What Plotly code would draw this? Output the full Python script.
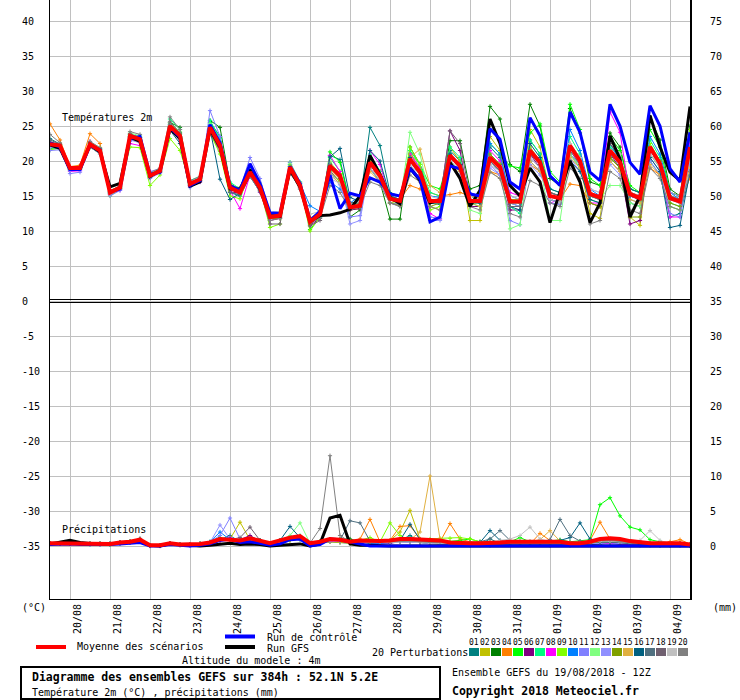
import plotly.graph_objects as go

# ---------------- data ----------------
HOURS = list(range(0, 385, 6))  # forecast hours from 19/08/2018 12Z
DATE_TICK_HOURS = [12, 36, 60, 84, 108, 132, 156, 180, 204, 228, 252, 276, 300, 324, 348, 372]
DATE_LABELS = ["20/08", "21/08", "22/08", "23/08", "24/08", "25/08", "26/08", "27/08",
               "28/08", "29/08", "30/08", "31/08", "01/09", "02/09", "03/09", "04/09"]
LEFT_TICKS = [40, 35, 30, 25, 20, 15, 10, 5, 0, -5, -10, -15, -20, -25, -30, -35]
RIGHT_TICKS = [75, 70, 65, 60, 55, 50, 45, 40, 35, 30, 25, 20, 15, 10, 5, 0]

T_MEAN = [22.4,22.2,19.0,19.0, 22.4,21.5,15.5,16.2, 23.6,23.1,17.9,18.6, 25.0,23.6,16.7,17.4,
          24.8,22.2,16.2,15.5, 18.4,16.2,12.0,12.2, 19.1,16.5,11.3,12.4, 19.3,17.9,13.4,13.6,
          19.8,17.9,14.6,14.3, 20.3,18.4,14.3,14.3, 20.8,19.3,14.3,14.3, 20.5,19.1,14.2,14.2,
          21.5,19.8,15.0,14.7, 22.2,20.0,15.3,14.8, 21.5,19.8,15.3,14.7, 22.0,19.6,14.7,14.2, 22.0]
T_CTRL = [22.6,22.0,18.8,18.8, 22.2,21.6,15.6,16.0, 23.2,23.5,18.1,18.4, 24.8,23.4,16.5,17.2,
          25.2,22.6,16.5,15.8, 19.6,16.8,12.6,12.5, 19.2,16.8,11.5,12.8, 18.0,13.2,15.4,15.0,
          17.6,17.0,15.3,15.0, 18.9,17.4,11.3,12.0, 19.3,18.9,15.3,15.0, 24.6,23.1,17.0,16.0,
          26.2,23.6,17.9,16.5, 27.0,24.1,18.4,17.2, 28.1,25.0,19.8,18.1, 27.9,25.0,18.9,17.0, 24.1]
T_GFS = [22.3,21.8,18.8,18.9, 22.3,21.3,16.3,16.8, 23.4,22.8,17.8,18.7, 24.6,23.2,16.4,17.0,
         24.5,22.0,16.0,16.0, 18.8,16.0,12.2,12.1, 18.8,16.3,11.4,12.2, 12.3,12.6,13.1,15.0,
         20.8,18.1,14.8,13.9, 19.0,17.2,14.0,14.5, 19.8,17.5,13.5,15.8, 26.0,22.5,16.5,15.0,
         19.0,17.0,11.2,15.5, 20.0,17.0,11.2,14.0, 23.6,20.3,12.0,15.0, 26.5,22.0,18.4,17.2, 27.8]

T01 = [23.2,22.4,19.0,19.2, 22.6,21.8,15.6,16.3, 23.8,23.4,18.0,18.8, 25.2,23.8,16.8,17.6, 25.6,23.5,15.5,15.0, 17.8,15.8,11.8,12.0, 19.5,16.8,11.0,12.0, 20.8,20.2,14.0,14.2, 24.8,22.2,15.5,15.0, 21.0,19.0,14.0,13.8, 21.5,20.0,15.0,14.5, 22.0,20.5,14.0,13.5, 23.0,21.0,14.5,14.0, 21.0,19.0,14.0,13.5, 20.5,19.0,14.0,13.5, 20.0,18.0,12.0,12.5, 18.0]
T02 = [22.0,21.8,18.6,18.8, 21.9,21.3,15.2,16.0, 23.0,22.8,17.6,18.4, 24.6,23.2,16.5,17.2, 24.0,21.5,16.5,16.2, 18.0,15.8,12.5,12.6, 18.6,16.3,11.8,12.8, 19.8,18.2,13.0,13.2, 20.5,18.5,14.0,13.8, 21.0,19.5,13.5,13.0, 22.0,20.0,11.5,11.5, 23.5,21.5,14.0,14.5, 24.5,22.0,15.5,15.0, 21.0,19.5,12.5,11.8, 22.5,20.5,12.0,10.8, 21.5,19.5,15.5,15.0, 21.5]
T03 = [22.0,21.9,18.9,19.0, 22.4,21.6,15.4,16.1, 23.4,23.0,17.8,18.5, 25.5,24.8,17.0,17.3, 25.8,24.8,16.8,15.8, 18.6,16.4,12.2,12.4, 19.2,16.6,11.6,12.6, 19.6,17.8,12.0,13.0, 19.0,17.0,11.7,11.7, 22.0,19.5,14.5,14.0, 22.9,22.9,16.0,16.5, 27.8,26.0,19.5,18.5, 28.1,25.0,17.5,16.5, 27.5,24.0,17.0,16.5, 24.0,22.0,16.0,15.5, 26.3,23.0,16.0,15.0, 25.0]
T04 = [25.3,23.0,19.2,19.4, 23.9,22.5,15.8,16.4, 23.2,22.6,17.8,18.4, 24.8,23.4,16.6,17.3, 24.2,21.8,16.6,16.0, 18.0,16.0,12.2,12.5, 18.8,16.3,11.6,12.5, 18.8,17.4,13.5,13.7, 19.0,17.5,14.0,14.5, 16.5,16.0,15.5,15.0, 15.2,15.5,15.0,14.8, 18.5,18.0,14.5,14.0, 19.5,18.5,15.0,14.5, 16.7,16.5,14.0,13.5, 20.0,18.5,15.0,14.5, 19.0,18.0,15.5,15.0, 17.5]
T05 = [21.8,21.9,18.7,18.9, 22.1,21.4,15.4,16.1, 23.7,23.3,17.9,18.7, 25.3,24.0,16.9,17.5, 25.5,22.8,16.8,15.3, 18.3,16.0,11.8,12.0, 19.8,17.0,10.2,12.0, 21.3,19.8,13.8,14.0, 20.5,18.5,15.0,14.5, 21.5,19.5,16.5,16.0, 21.0,19.5,15.0,14.5, 22.5,21.0,19.3,19.0, 24.0,25.3,18.5,17.0, 28.1,24.5,17.5,16.5, 23.5,21.5,16.5,15.5, 24.5,22.0,15.5,15.0, 23.5]
T06 = [22.1,21.9,18.8,18.9, 22.2,21.2,15.3,16.0, 23.3,22.9,18.0,18.6, 24.8,23.3,16.4,17.1, 24.0,21.4,15.6,15.4, 18.2,16.0,11.5,11.8, 19.0,16.4,10.8,11.8, 18.6,17.0,13.0,13.2, 19.5,17.5,14.5,14.0, 20.0,18.0,14.0,14.5, 24.3,21.5,13.5,13.5, 20.5,19.0,13.0,13.0, 21.0,19.0,14.5,14.0, 22.0,20.0,15.5,15.0, 21.0,19.0,11.0,11.5, 21.5,19.5,15.0,14.5, 21.0]
T07 = [22.2,22.1,19.1,19.1, 22.5,21.7,15.6,16.3, 23.8,23.4,18.0,18.7, 26.0,24.5,17.2,17.8, 25.8,23.2,17.0,16.0, 18.8,16.5,12.0,12.2, 19.5,16.8,11.2,12.3, 20.5,18.5,13.8,14.0, 21.0,18.5,15.0,14.5, 21.5,19.5,15.5,15.0, 22.0,20.5,14.0,13.5, 21.0,19.5,13.5,12.5, 23.0,21.0,16.0,15.5, 23.5,21.0,14.5,14.0, 22.0,20.5,16.0,15.5, 23.0,20.5,14.0,13.5, 23.5]
T08 = [22.0,21.8,18.5,18.6, 22.8,21.6,15.2,15.8, 22.5,22.2,17.6,18.4, 24.6,23.4,16.5,17.0, 24.4,21.6,15.8,13.2, 18.0,15.5,11.8,12.0, 18.8,16.2,11.6,12.6, 20.8,18.5,13.5,13.8, 21.5,19.5,14.5,14.0, 21.0,19.0,12.5,11.7, 20.5,19.0,14.0,14.5, 21.5,20.0,15.5,15.0, 22.0,20.0,14.0,14.5, 21.5,19.5,14.0,14.0, 27.0,24.1,15.0,14.5, 21.0,19.0,12.0,12.0, 22.5]
T09 = [21.6,21.8,18.8,18.9, 22.0,21.0,15.0,16.0, 22.0,21.9,16.5,18.0, 23.2,21.5,16.8,17.4, 24.0,21.0,15.0,14.6, 18.5,16.0,10.5,11.0, 19.2,16.4,10.0,12.0, 18.5,17.0,13.2,13.4, 19.0,17.0,14.0,14.0, 22.0,19.5,13.0,13.5, 21.0,19.0,14.0,14.0, 20.5,19.5,14.5,14.5, 22.0,20.0,15.5,15.0, 21.0,19.5,15.0,14.5, 20.5,19.0,15.5,15.0, 22.5,20.0,13.5,13.0, 24.5]
T10 = [22.0,21.7,18.9,19.0, 22.5,21.5,15.5,16.2, 23.5,23.0,18.0,18.6, 25.2,23.5,16.6,17.2, 25.0,22.5,16.4,15.8, 18.6,16.6,12.4,12.6, 19.2,16.8,13.6,12.8, 17.0,16.0,14.0,15.0, 19.5,18.0,15.0,14.5, 20.0,18.5,15.0,14.8, 21.0,19.5,14.5,14.5, 22.5,21.0,15.0,14.5, 20.0,18.5,14.5,14.0, 24.5,21.5,16.0,15.0, 22.5,20.0,15.0,14.5, 23.5,21.0,15.5,14.5, 22.0]
T11 = [21.5,21.6,18.2,18.4, 22.0,21.0,15.0,15.8, 22.8,23.3,18.5,18.9, 24.5,23.0,16.2,17.0, 27.2,23.5,16.5,16.0, 20.5,17.5,12.6,12.8, 19.8,17.0,11.4,12.0, 18.4,16.6,12.0,12.2, 19.0,17.0,14.0,13.8, 19.5,17.5,12.0,11.8, 20.0,18.5,14.5,14.0, 19.5,18.0,11.5,10.9, 20.5,19.0,14.0,13.8, 21.0,19.5,15.0,14.5, 20.0,18.5,14.5,14.0, 20.5,18.5,12.5,12.0, 20.0]
T12 = [22.5,22.3,19.2,19.1, 22.7,21.9,15.7,16.4, 24.0,23.6,18.2,18.9, 25.5,24.2,17.0,17.6, 25.3,22.4,16.3,15.4, 18.9,16.8,12.2,12.4, 19.6,17.0,11.2,12.5, 19.8,18.0,13.5,13.8, 20.0,18.0,14.5,14.0, 24.1,21.0,14.5,14.0, 20.0,18.5,13.0,12.5, 20.5,19.0,10.3,10.9, 21.5,19.5,11.5,11.5, 21.0,19.0,15.0,14.5, 16.5,16.5,14.0,13.5, 21.0,19.0,13.5,13.0, 20.5]
T13 = [21.9,22.0,18.6,18.7, 22.3,21.4,15.3,15.9, 23.0,22.6,17.5,18.3, 24.8,23.6,17.0,17.6, 24.5,22.0,16.0,15.6, 18.2,16.1,11.8,12.0, 19.0,16.6,11.3,12.3, 19.0,17.5,11.0,11.5, 19.5,17.5,14.0,13.5, 20.0,18.0,11.5,11.5, 19.5,18.0,15.5,15.0, 19.0,18.0,14.0,13.5, 19.5,18.0,15.5,15.0, 20.5,18.5,16.0,15.5, 19.5,18.0,15.5,15.0, 20.0,18.0,15.5,15.0, 19.5]
T14 = [22.3,22.0,19.0,19.1, 22.4,21.5,15.6,16.3, 23.6,23.1,17.9,18.6, 24.9,23.5,16.8,17.5, 24.6,22.0,16.0,15.5, 18.4,16.3,11.8,11.8, 19.3,16.6,11.0,12.4, 19.0,17.5,13.2,13.4, 20.0,18.0,14.0,13.6, 20.5,18.5,13.5,14.0, 20.5,19.5,14.5,14.0, 21.0,19.5,14.5,14.0, 21.5,20.0,15.0,14.5, 22.5,20.5,14.0,13.5, 20.5,19.0,12.0,12.0, 22.0,20.0,14.0,13.5, 21.0]
T15 = [22.4,22.0,19.0,19.0, 22.5,21.6,15.6,16.2, 23.5,23.0,17.9,18.5, 24.8,23.4,16.6,17.3, 24.8,22.0,16.2,15.6, 18.5,16.4,12.2,12.4, 19.0,16.5,11.3,12.4, 18.0,16.8,13.5,14.0, 18.5,17.0,15.0,14.5, 20.5,21.7,16.5,15.5, 19.5,18.5,14.0,13.5, 18.5,17.5,14.0,14.0, 20.0,18.5,15.0,14.5, 20.5,19.0,15.5,14.5, 20.0,18.5,14.5,14.0, 19.5,18.0,15.0,14.5, 19.0]
T16 = [22.7,22.4,19.1,19.2, 22.6,21.7,15.7,16.4, 23.4,22.9,17.7,18.4, 24.4,22.5,16.6,17.2, 24.6,17.4,14.5,15.4, 17.8,15.6,12.0,12.2, 18.2,16.4,11.6,12.8, 20.6,21.8,14.8,14.2, 21.5,20.0,15.0,14.5, 20.5,18.5,14.5,14.5, 21.0,19.5,14.0,14.0, 20.0,18.5,13.5,13.0, 22.5,20.5,16.0,15.5, 20.0,18.5,14.5,14.0, 21.5,19.5,16.0,15.5, 20.5,18.5,10.5,10.8, 18.5]
T17 = [22.5,22.3,19.0,19.0, 22.3,21.4,15.4,16.1, 23.5,23.1,17.8,18.5, 24.7,23.2,16.6,17.3, 24.6,22.0,15.5,15.2, 18.1,15.9,12.0,12.2, 18.8,16.3,11.2,12.4, 19.2,17.6,13.2,13.4, 19.5,17.8,14.5,14.2, 20.0,18.0,14.0,14.0, 20.5,19.0,14.5,14.5, 20.0,18.5,14.0,14.0, 21.0,19.5,15.5,15.0, 21.5,19.5,15.0,14.5, 21.0,19.5,15.0,14.5, 21.5,19.5,14.5,14.0, 21.5]
T18 = [23.0,22.4,19.1,19.1, 22.5,21.7,15.5,16.2, 23.9,23.3,18.0,18.7, 25.6,24.0,17.0,17.5, 24.0,21.8,16.0,15.5, 18.0,15.8,11.0,11.0, 18.5,16.0,10.7,11.5, 19.5,18.0,14.0,14.0, 19.5,17.5,14.5,14.0, 20.0,18.0,14.5,14.5, 24.3,22.5,15.0,14.5, 20.0,18.5,13.5,13.5, 21.5,19.5,15.5,15.0, 22.0,20.0,15.0,14.5, 22.5,20.5,15.5,15.0, 21.5,19.5,15.0,14.5, 21.0]
T19 = [22.2,22.0,18.9,19.0, 22.3,21.4,15.4,16.1, 23.4,22.9,17.8,18.6, 24.6,23.2,16.5,17.2, 24.5,21.8,16.0,15.6, 18.2,16.0,12.6,12.8, 18.6,16.3,12.4,12.8, 17.5,16.8,13.8,14.2, 19.0,17.5,14.5,14.0, 19.5,18.0,15.0,14.5, 20.0,19.0,15.0,14.5, 19.5,18.5,15.0,14.5, 20.5,19.0,14.5,14.0, 22.5,20.5,16.0,15.5, 23.0,21.0,15.5,15.0, 21.0,19.5,14.5,14.0, 20.5]
T20 = [23.8,22.6,19.0,19.2, 22.8,21.9,15.7,16.4, 24.2,23.8,18.3,19.0, 26.3,24.5,17.2,17.8, 24.8,22.4,16.4,15.8, 17.8,15.6,11.5,11.8, 18.4,16.0,11.5,11.8, 16.5,15.5,13.0,13.5, 17.0,16.5,14.0,13.5, 18.0,17.0,13.5,13.0, 20.5,19.0,13.5,13.0, 18.4,17.5,12.5,12.0, 17.2,16.5,14.0,13.5, 19.0,17.5,11.0,11.5, 18.5,17.5,13.0,12.5, 19.0,17.5,13.5,13.0, 18.5]

P_MEAN = [0.4,0.4,0.4,0.4, 0.3,0.3,0.3,0.5, 0.6,0.9,0.1,0.1, 0.4,0.2,0.2,0.3, 0.5,1.0,0.9,0.8, 1.1,0.8,0.4,0.8,
          1.2,1.4,0.4,0.6, 1.0,0.9,0.6,0.8, 0.7,0.7,0.8,1.0, 1.0,0.9,0.9,0.8, 0.5,0.4,0.4,0.4, 0.4,0.5,0.6,0.6,
          0.6,0.6,0.6,0.6, 0.4,0.4,0.6,1.0, 1.1,1.0,0.7,0.5, 0.4,0.4,0.4,0.4, 0.2]
P_CTRL = [0.2,0.3,0.3,0.2, 0.2,0.1,0.2,0.3, 0.4,0.5,0.0,0.0, 0.2,0.1,0.0,0.1, 0.3,0.8,1.0,0.5, 0.6,0.4,0.1,0.3,
          0.9,1.0,0.0,0.2, 1.0,0.9,0.6,0.3, 0.0,0.0,0.0,0.0, 0.0,0.0,0.0,0.0, 0.0,0.0,0.0,0.0, 0.0,0.0,0.0,0.0,
          0.0,0.0,0.0,0.0, 0.0,0.0,0.0,0.0, 0.0,0.0,0.0,0.0, 0.0,0.0,0.0,0.0, 0.0]
P_GFS = [0.3,0.6,0.8,0.5, 0.3,0.2,0.3,0.4, 0.5,0.7,0.1,0.0, 0.3,0.2,0.1,0.0, 0.1,0.3,0.4,0.2, 0.3,0.2,0.0,0.1,
         0.2,0.3,0.0,0.3, 4.0,4.4,0.3,0.1, 0.1,0.0,0.0,0.0, 0.0,0.0,0.0,0.0, 0.0,0.0,0.0,0.0, 0.0,0.0,0.0,0.0,
         0.0,0.0,0.0,0.0, 0.0,0.0,0.0,0.0, 0.0,0.0,0.0,0.0, 0.0,0.0,0.0,0.0, 0.0]

P01 = [0.3,0.4,0.4,0.3, 0.2,0.2,0.2,0.4, 0.5,0.8,0.1,0.0, 0.3,0.1,0.1,0.2, 0.4,0.9,1.5,0.6, 0.8,0.5,0.2,0.6, 1.2,0.9,0.2,0.4, 0.6,0.5,0.4,0.6, 0.5,0.4,0.5,0.8, 1.5,0.6,0.4,0.3, 0.2,0.2,0.1,0.2, 1.0,0.4,0.2,0.3, 0.3,0.2,0.3,0.2, 0.2,0.3,0.4,0.5, 0.6,0.5,0.3,0.2, 0.2,0.1,0.2,0.3, 0.1]
P02 = [0.4,0.4,0.5,0.4, 0.3,0.3,0.3,0.5, 0.6,0.9,0.1,0.1, 0.4,0.2,0.2,0.3, 0.5,0.8,1.0,3.4, 0.9,0.6,0.3,0.5, 0.8,1.0,0.3,0.4, 0.6,0.5,0.4,0.5, 0.5,0.6,0.8,2.0, 5.1,1.0,0.3,0.2, 0.3,0.2,0.2,0.1, 0.2,0.3,0.2,0.3, 0.4,0.3,0.2,0.3, 0.2,0.2,0.3,0.5, 0.6,0.4,0.3,0.2, 0.2,0.2,0.1,0.2, 0.1]
P03 = [0.3,0.4,0.4,0.3, 0.3,0.3,0.2,0.4, 0.5,0.8,0.0,0.1, 0.3,0.2,0.2,0.2, 0.4,1.0,0.8,0.6, 0.9,0.6,0.3,0.7, 1.0,1.2,0.3,0.5, 0.8,1.0,1.0,0.6, 0.4,0.4,0.5,0.6, 0.6,0.5,0.4,0.3, 0.2,0.2,0.3,0.2, 0.1,0.2,0.3,0.2, 0.2,0.2,0.1,0.2, 0.1,0.2,0.2,0.3, 0.4,0.3,0.2,0.1, 0.1,0.1,0.1,0.1, 0.0]
P04 = [0.4,0.4,0.4,0.4, 0.3,0.3,0.3,0.4, 0.5,0.9,0.1,0.1, 0.4,0.2,0.2,0.2, 0.4,0.9,0.8,0.7, 1.0,0.7,0.3,0.6, 1.0,1.3,0.3,0.5, 0.8,0.8,0.6,1.0, 3.8,0.6,0.8,2.8, 2.9,1.0,0.5,0.6, 3.2,1.0,0.6,0.5, 0.6,0.7,0.5,0.4, 0.3,1.8,0.8,0.3, 0.3,0.4,0.8,3.4, 1.0,0.6,0.4,0.3, 0.3,0.3,0.6,0.9, 0.3]
P05 = [0.4,0.4,0.4,0.3, 0.3,0.2,0.3,0.4, 0.5,0.9,0.1,0.1, 0.3,0.2,0.2,0.3, 0.6,1.2,0.9,0.8, 1.0,0.8,0.4,0.7, 1.0,1.2,0.3,0.5, 0.8,0.9,0.6,0.7, 0.5,0.4,0.6,0.6, 0.5,0.5,0.4,0.5, 0.6,0.8,1.0,0.6, 0.4,0.4,0.6,1.2, 0.6,0.5,0.7,0.9, 0.6,0.7,0.9,5.9, 6.9,4.3,2.7,2.3, 0.9,0.6,0.4,0.3, 0.2]
P06 = [0.3,0.3,0.4,0.4, 0.3,0.3,0.3,0.5, 0.6,0.8,0.1,0.1, 0.4,0.2,0.2,0.2, 0.5,0.8,0.9,0.9, 1.5,0.7,0.4,0.7, 1.0,1.1,0.3,0.5, 0.8,0.7,0.5,0.6, 0.5,0.5,0.4,0.6, 0.6,0.5,0.5,0.4, 0.3,0.2,0.2,0.2, 0.2,0.3,0.3,0.2, 0.3,0.3,0.2,0.2, 0.2,0.2,0.3,0.4, 0.5,0.4,0.3,0.2, 0.2,0.2,0.2,0.2, 0.1]
P07 = [0.4,0.4,0.4,0.4, 0.3,0.3,0.3,0.5, 0.5,0.8,0.1,0.1, 0.4,0.2,0.2,0.3, 0.5,0.9,0.8,0.7, 1.0,0.8,0.4,0.8, 1.1,1.5,0.4,0.6, 0.9,0.8,0.5,0.6, 0.5,0.6,0.6,0.7, 0.8,0.6,0.5,0.4, 0.3,0.3,0.3,0.2, 0.3,0.3,0.2,0.3, 0.3,0.3,0.3,0.2, 0.2,0.2,0.3,0.5, 0.5,0.4,0.3,0.2, 0.2,0.2,0.2,0.2, 0.1]
P08 = [0.3,0.3,0.4,0.3, 0.3,0.2,0.3,0.4, 0.5,0.7,0.1,0.0, 0.3,0.2,0.1,0.2, 0.5,0.8,1.2,0.8, 0.9,0.7,0.3,0.6, 1.0,1.1,0.3,0.4, 0.7,0.7,0.5,0.5, 0.4,0.4,0.5,0.6, 0.6,0.5,0.4,0.4, 0.3,0.3,0.2,0.2, 0.2,0.2,0.2,0.2, 0.2,0.2,0.2,0.2, 0.2,0.2,0.3,0.4, 0.4,0.3,0.2,0.2, 0.2,0.2,0.2,0.1, 0.1]
P09 = [0.4,0.4,0.4,0.4, 0.3,0.3,0.3,0.5, 0.6,0.9,0.1,0.1, 0.4,0.2,0.2,0.3, 0.5,1.0,1.0,0.8, 1.0,0.8,0.4,0.8, 1.1,1.3,0.4,0.6, 0.9,0.8,0.6,0.8, 1.2,0.6,3.3,1.5, 0.8,0.6,1.0,1.1, 1.1,1.2,1.0,0.6, 0.5,0.5,0.6,0.5, 0.5,0.6,0.5,0.5, 0.4,0.4,0.6,0.8, 0.8,0.7,0.5,0.4, 0.3,0.3,0.4,0.4, 0.2]
P10 = [0.3,0.4,0.4,0.3, 0.3,0.3,0.3,0.4, 0.5,0.8,0.1,0.1, 0.4,0.2,0.2,0.3, 0.6,2.0,0.9,0.7, 1.0,0.8,0.4,0.7, 1.0,1.2,0.3,0.5, 0.8,0.8,0.5,0.6, 0.4,0.4,0.5,0.6, 0.6,0.5,0.4,0.3, 0.3,0.3,0.2,0.2, 0.2,0.3,0.3,0.3, 0.3,0.3,0.2,0.3, 0.3,0.3,0.4,0.5, 0.5,0.4,0.3,0.2, 0.2,0.2,0.2,0.2, 0.1]
P11 = [0.4,0.4,0.4,0.4, 0.3,0.3,0.3,0.5, 0.5,0.8,0.1,0.1, 0.4,0.2,0.2,0.3, 0.6,1.5,4.0,1.0, 1.0,0.7,0.4,0.7, 1.0,1.2,0.3,0.5, 0.9,0.8,0.5,0.6, 0.5,0.5,0.5,0.6, 0.6,0.5,0.4,0.4, 0.3,0.2,0.2,0.2, 0.2,0.2,0.2,0.2, 0.2,0.2,0.3,0.3, 0.3,0.3,0.4,0.5, 0.5,0.4,0.3,0.3, 0.2,0.2,0.2,0.2, 0.1]
P12 = [0.4,0.4,0.4,0.4, 0.3,0.3,0.3,0.5, 0.6,0.9,0.1,0.1, 0.4,0.2,0.2,0.3, 0.5,1.0,0.9,0.8, 1.1,0.8,0.4,0.8, 1.5,3.3,0.4,0.6, 0.9,0.8,0.5,0.7, 0.6,0.6,0.6,0.7, 0.8,0.6,0.5,0.4, 0.4,0.3,0.3,0.3, 0.3,0.3,0.3,0.3, 0.3,0.3,0.3,0.3, 0.3,0.3,0.4,0.6, 0.6,0.5,0.4,0.3, 0.3,0.3,0.3,0.2, 0.1]
P13 = [0.3,0.3,0.4,0.3, 0.2,0.2,0.2,0.4, 0.5,0.8,0.0,0.1, 0.3,0.2,0.1,0.2, 0.5,3.0,1.0,0.7, 0.9,0.7,0.3,0.7, 1.0,1.1,0.3,0.5, 0.8,0.7,0.5,0.6, 0.5,0.5,0.5,0.6, 0.6,0.5,0.4,0.3, 0.2,0.2,0.2,0.2, 0.2,0.2,0.2,0.2, 0.2,0.2,0.2,0.2, 0.2,0.2,0.3,0.4, 0.5,0.4,0.3,0.2, 0.2,0.2,0.2,0.2, 0.1]
P14 = [0.4,0.4,0.4,0.4, 0.3,0.3,0.3,0.5, 0.6,0.9,0.1,0.1, 0.4,0.2,0.2,0.3, 0.5,0.9,0.9,0.8, 1.0,0.8,0.4,0.7, 0.8,1.2,0.4,0.6, 0.9,0.8,0.6,0.7, 0.6,0.6,0.7,0.8, 1.0,0.7,0.5,0.4, 0.4,0.3,0.3,0.3, 0.3,0.3,0.3,0.3, 0.3,0.3,0.3,0.3, 0.3,0.3,0.4,0.6, 0.6,0.5,0.4,0.3, 0.3,0.3,0.3,0.3, 0.1]
P15 = [0.4,0.4,0.4,0.4, 0.3,0.3,0.3,0.5, 0.6,0.9,0.1,0.1, 0.4,0.2,0.2,0.3, 0.5,1.0,0.9,0.8, 1.0,0.8,0.4,0.8, 1.1,1.3,0.4,0.6, 0.9,0.9,0.6,0.8, 0.6,0.6,0.6,0.8, 0.9,2.0,10.0,1.0, 0.6,0.5,0.4,0.4, 0.4,0.5,0.5,0.5, 0.6,0.9,2.2,0.7, 0.4,0.4,0.6,0.9, 0.8,0.6,0.4,0.3, 0.3,0.3,0.4,0.3, 0.2]
P16 = [0.4,0.4,0.4,0.4, 0.3,0.3,0.3,0.5, 0.6,0.9,0.1,0.1, 0.4,0.2,0.2,0.3, 0.5,1.0,0.9,0.8, 1.0,0.8,0.4,0.8, 2.8,1.2,0.4,0.6, 0.9,0.8,0.6,0.7, 0.6,0.6,0.6,0.8, 3.1,0.9,0.5,0.4, 0.4,0.4,0.4,0.5, 2.2,0.8,0.5,0.5, 0.5,0.5,0.6,0.8, 1.2,3.3,1.0,0.6, 0.6,0.5,0.4,0.3, 0.3,0.3,0.3,0.3, 0.2]
P17 = [0.4,0.4,0.4,0.4, 0.3,0.3,0.3,0.5, 0.6,0.9,0.1,0.1, 0.4,0.2,0.2,0.3, 0.5,1.0,0.9,0.8, 1.0,0.8,0.4,0.8, 1.1,1.2,0.4,0.6, 0.9,0.8,3.6,3.3, 0.7,0.6,0.6,0.7, 0.8,0.6,0.5,0.5, 0.4,0.4,0.5,0.6, 1.0,2.2,0.8,0.6, 0.6,0.5,0.9,3.8, 1.5,0.7,0.6,0.6, 0.6,0.5,0.4,0.3, 0.3,0.3,0.3,0.3, 0.2]
P18 = [0.4,0.4,0.4,0.4, 0.3,0.3,0.3,0.5, 0.6,1.0,0.1,0.1, 0.4,0.2,0.2,0.3, 0.5,0.9,0.9,1.2, 2.7,0.8,0.4,0.7, 1.0,1.1,0.4,0.6, 0.8,0.8,0.5,0.7, 0.6,0.6,0.6,0.7, 0.7,0.6,0.5,0.4, 0.4,0.3,0.3,0.3, 0.4,0.5,0.4,0.4, 0.4,0.4,0.5,0.6, 0.5,0.5,0.7,0.9, 0.8,0.6,0.4,0.3, 0.3,0.3,0.3,0.3, 0.2]
P19 = [0.3,0.4,0.4,0.3, 0.3,0.3,0.3,0.4, 0.5,0.8,0.1,0.1, 0.3,0.2,0.2,0.2, 0.4,0.9,0.8,0.7, 0.9,0.7,0.3,0.7, 1.0,1.1,0.3,0.5, 0.8,0.8,0.5,0.6, 0.5,0.5,0.5,0.6, 0.6,0.5,0.4,0.4, 0.3,0.3,0.3,0.4, 0.6,0.8,1.0,1.5, 2.7,1.0,0.6,0.5, 0.4,0.4,0.5,0.7, 0.7,0.6,0.5,0.8, 2.2,0.8,0.3,0.3, 0.2]
P20 = [0.4,0.4,0.4,0.4, 0.3,0.3,0.3,0.5, 0.6,1.1,0.1,0.1, 0.4,0.2,0.2,0.3, 0.5,1.0,0.9,0.8, 1.0,0.8,0.4,0.8, 1.2,1.2,0.4,2.5, 12.9,1.5,0.6,0.7, 0.6,0.6,0.6,0.7, 0.7,0.6,0.5,0.5, 0.4,0.4,0.4,0.4, 0.4,0.4,0.4,0.4, 0.4,0.4,0.5,0.5, 0.4,0.4,0.6,0.8, 0.8,0.6,0.4,0.3, 0.3,0.3,0.3,0.3, 0.2]

PERT_NAMES = ["01","02","03","04","05","06","07","08","09","10",
              "11","12","13","14","15","16","17","18","19","20"]
PERT_COLORS = ["#008080","#c0c000","#008000","#ff8000","#00ff00","#800080","#00ff80","#ff00ff","#80ff00","#0080ff",
               "#8080ff","#80ff80","#9090ff","#80a000","#e0b040","#006080","#507080","#706070","#c0c0c0","#808080"]
PERT_T = [T01,T02,T03,T04,T05,T06,T07,T08,T09,T10,T11,T12,T13,T14,T15,T16,T17,T18,T19,T20]
PERT_P = [P01,P02,P03,P04,P05,P06,P07,P08,P09,P10,P11,P12,P13,P14,P15,P16,P17,P18,P19,P20]

# ---------------- layout helpers ----------------
W, H = 740, 700
L, R, T, B = 50, 50, 0, 101
PW, PH = W - L - R, H - T - B
FONT = "DejaVu Sans Mono"

def px(x):
    return (x - L) / PW

def py(y):
    return (H - B - y) / PH

fig = go.Figure()

mk = dict(symbol="cross-thin-open", size=3)
for name, col, t, p in zip(PERT_NAMES, PERT_COLORS, PERT_T, PERT_P):
    fig.add_trace(go.Scatter(x=HOURS, y=t, mode="lines+markers", line=dict(color=col, width=1),
                             marker=dict(color=col, line=dict(color=col, width=1), **mk),
                             showlegend=False, hoverinfo="skip"))
    fig.add_trace(go.Scatter(x=HOURS, y=p, yaxis="y2", mode="lines+markers", line=dict(color=col, width=1),
                             marker=dict(color=col, line=dict(color=col, width=1), **mk),
                             showlegend=False, hoverinfo="skip"))

for t, p, col, w in [(T_GFS, P_GFS, "#000000", 3), (T_CTRL, P_CTRL, "#0000ff", 3), (T_MEAN, P_MEAN, "#ff0000", 4)]:
    fig.add_trace(go.Scatter(x=HOURS, y=t, mode="lines", line=dict(color=col, width=w),
                             showlegend=False, hoverinfo="skip"))
    fig.add_trace(go.Scatter(x=HOURS, y=p, yaxis="y2", mode="lines", line=dict(color=col, width=w),
                             showlegend=False, hoverinfo="skip"))

ytop = 301 / 7.0
ybot = ytop - PH / 7.0

fig.update_layout(
    width=W, height=H, margin=dict(l=L, r=R, t=T, b=B, pad=0),
    paper_bgcolor="white", plot_bgcolor="white", showlegend=False, hovermode=False, dragmode=False,
    xaxis=dict(range=[0, 384], tickvals=DATE_TICK_HOURS, showticklabels=False, ticks="",
               showgrid=True, gridcolor="#c0c0c0", gridwidth=1, zeroline=False, fixedrange=True,
               showline=True, linecolor="black", linewidth=1),
    yaxis=dict(range=[ybot, ytop], tickvals=LEFT_TICKS, showticklabels=False, ticks="",
               showgrid=True, gridcolor="#c0c0c0", gridwidth=1, zeroline=False, fixedrange=True,
               showline=True, linecolor="black", linewidth=1.5),
    yaxis2=dict(range=[ybot + 35, ytop + 35], overlaying="y", side="right", tickvals=RIGHT_TICKS,
                showticklabels=False, ticks="", showgrid=False, zeroline=False, fixedrange=True,
                showline=True, linecolor="black", linewidth=1.5),
)

ann = []
for v in LEFT_TICKS:
    ann.append(dict(xref="paper", yref="y", x=px(20), y=v, text=str(v), showarrow=False,
                    xanchor="left", yanchor="middle", font=dict(family=FONT, size=10, color="black")))
for v in RIGHT_TICKS:
    ann.append(dict(xref="paper", yref="y2", x=px(708), y=v, text=str(v), showarrow=False,
                    xanchor="left", yanchor="middle", font=dict(family=FONT, size=10, color="black")))
for h, lab in zip(DATE_TICK_HOURS, DATE_LABELS):
    ann.append(dict(xref="x", yref="paper", x=h + 4.2, y=py(602), text=lab, textangle=-90, showarrow=False,
                    xanchor="center", yanchor="top", font=dict(family=FONT, size=10, color="black")))

def txt(x, y, s, size=10, bold=False, anchor="left"):
    if bold:
        s = "<b>" + s + "</b>"
    ann.append(dict(xref="paper", yref="paper", x=px(x), y=py(y), text=s, showarrow=False,
                    xanchor=anchor, yanchor="middle", font=dict(family=FONT, size=size, color="#000000")))

txt(60, 117, "Températures 2m")
txt(60, 529, "Précipitations")
txt(20, 607, "(°C)")
txt(711, 607, "(mm)")
txt(75, 647, "Moyenne des scénarios")
txt(265, 637, "Run de contrôle")
txt(265, 648, "Run GFS")
txt(180, 660, "Altitude du modele : 4m")
txt(370, 652, "20 Perturbations")
txt(30, 677, "Diagramme des ensembles GEFS sur 384h : 52.1N 5.2E", size=11.5, bold=True)
txt(30, 692, "Température 2m (°C) , précipitations (mm)")
txt(450, 672, "Ensemble GEFS du 19/08/2018 - 12Z")
txt(450, 691, "Copyright 2018 Meteociel.fr", size=11.5, bold=True)

shapes = []
def hline(x0, x1, y, col, w):
    shapes.append(dict(type="line", xref="paper", yref="paper", x0=px(x0), x1=px(x1), y0=py(y), y1=py(y),
                       line=dict(color=col, width=w)))

hline(50, 690, 299.5, "black", 1)
hline(50, 690, 302.5, "black", 1)
hline(36, 66, 647, "#ff0000", 4)
hline(225, 255, 636.5, "#0000ff", 4)
hline(225, 255, 647, "#000000", 4)
shapes.append(dict(type="rect", xref="paper", yref="paper", x0=px(21), x1=px(440), y0=py(667), y1=py(699),
                   line=dict(color="black", width=2), fillcolor="rgba(0,0,0,0)"))
for k, (name, col) in enumerate(zip(PERT_NAMES, PERT_COLORS)):
    x0 = 469 + 11 * k
    shapes.append(dict(type="rect", xref="paper", yref="paper", x0=px(x0), x1=px(x0 + 10), y0=py(648), y1=py(656),
                       line=dict(width=0), fillcolor=col))
    ann.append(dict(xref="paper", yref="paper", x=px(x0 + 5), y=py(642), text=name, showarrow=False,
                    xanchor="center", yanchor="middle", font=dict(family=FONT, size=8, color="black")))

fig.update_layout(annotations=ann, shapes=shapes)
fig.write_html("out.html", config={"displayModeBar": False, "staticPlot": True},
               post_script="document.body.style.margin='0';document.body.style.overflow='hidden';")
